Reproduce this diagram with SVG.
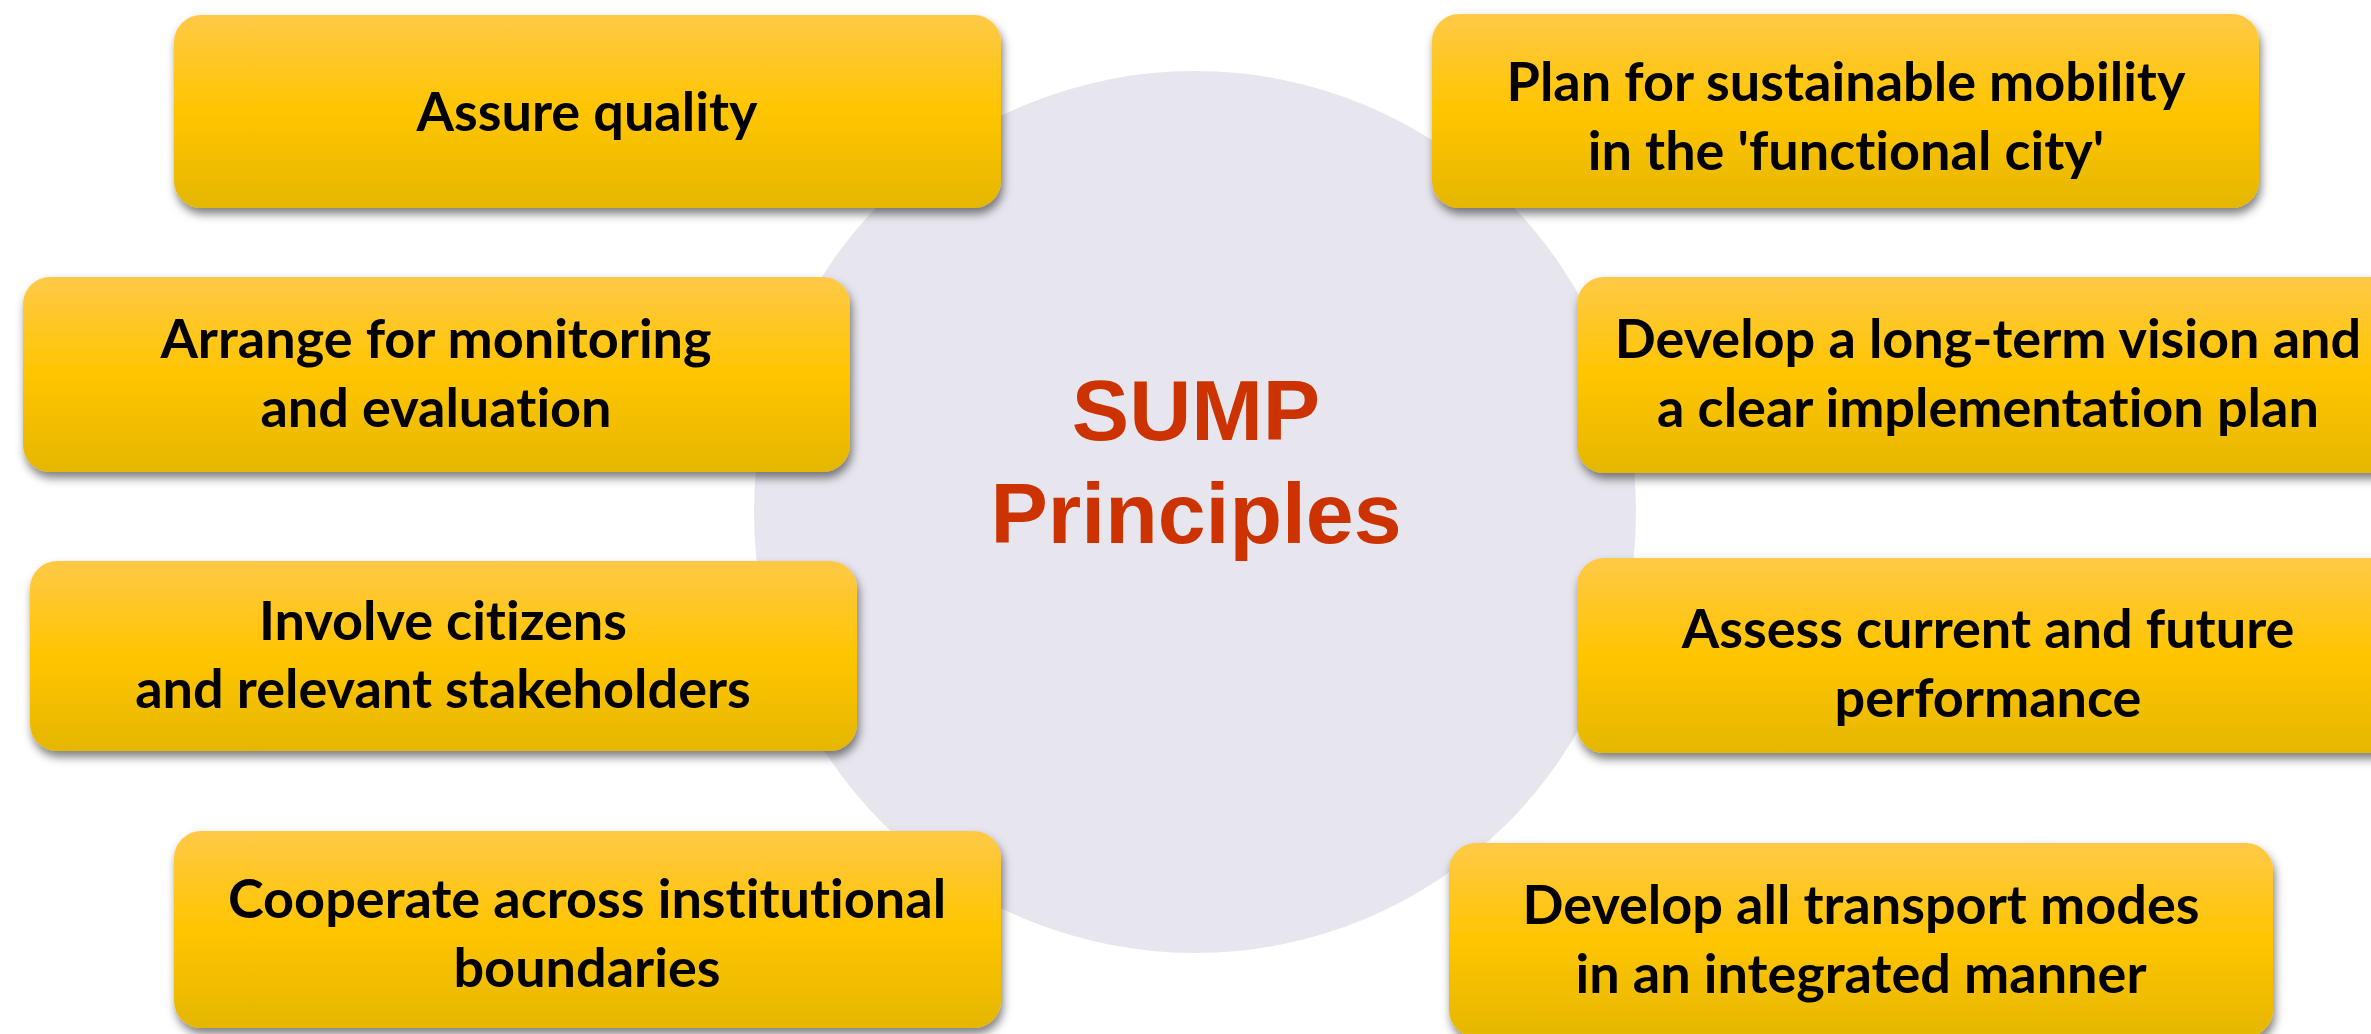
<svg xmlns="http://www.w3.org/2000/svg" width="2371" height="1034" viewBox="0 0 2371 1034">
  <defs>
    <linearGradient id="gold" x1="0" y1="0" x2="0" y2="1">
      <stop offset="0" stop-color="#FFC947"/>
      <stop offset="0.5" stop-color="#FFC500"/>
      <stop offset="1" stop-color="#E5B700"/>
    </linearGradient>
    <filter id="shadow" x="-5%" y="-10%" width="112%" height="130%">
      <feDropShadow dx="2" dy="6" stdDeviation="5" flood-color="#000" flood-opacity="0.5"/>
    </filter>
  </defs>
  <style>
    .box { fill: url(#gold); filter: url(#shadow); }
    .lbl { font-family: Lato, "Liberation Sans", sans-serif; font-weight: 700; font-size: 54px; fill: #000; text-anchor: middle; font-variant-ligatures: none; }
    .title { font-family: "Liberation Sans", Arial, sans-serif; font-weight: 700; font-size: 86px; fill: #CC3300; text-anchor: middle; }
  </style>
  <rect width="2371" height="1034" fill="#FFFFFF"/>

  <g id="center">
    <circle cx="1195" cy="512" r="441" fill="#E7E6EF"/>
    <text class="title" x="1196" y="440">SUMP</text>
    <text class="title" x="1196" y="543">Principles</text>
  </g>

  <g id="connectors"></g>

  <g id="n-assure">
    <rect class="box" x="174" y="15" width="827" height="193" rx="27"/>
    <text class="lbl" x="587" y="131">Assure quality</text>
  </g>
  <g id="n-arrange">
    <rect class="box" x="23" y="277" width="827" height="195" rx="27"/>
    <text class="lbl" x="436" y="358">Arrange for monitoring</text>
    <text class="lbl" x="436" y="427">and evaluation</text>
  </g>
  <g id="n-involve">
    <rect class="box" x="30" y="561" width="827" height="190" rx="27"/>
    <text class="lbl" x="443" y="640">Involve citizens</text>
    <text class="lbl" x="443" y="708">and relevant stakeholders</text>
  </g>
  <g id="n-cooperate">
    <rect class="box" x="174" y="831" width="827" height="197" rx="27"/>
    <text class="lbl" x="587" y="918">Cooperate across institutional</text>
    <text class="lbl" x="587" y="987">boundaries</text>
  </g>
  <g id="n-plan">
    <rect class="box" x="1432" y="14" width="827" height="194" rx="27"/>
    <text class="lbl" x="1846" y="101">Plan for sustainable mobility</text>
    <text class="lbl" x="1846" y="170">in the 'functional city'</text>
  </g>
  <g id="n-vision">
    <rect class="box" x="1577" y="277" width="827" height="196" rx="27"/>
    <text class="lbl" x="1988" y="358">Develop a long-term vision and</text>
    <text class="lbl" x="1988" y="427">a clear implementation plan</text>
  </g>
  <g id="n-assess">
    <rect class="box" x="1577" y="558" width="827" height="195" rx="27"/>
    <text class="lbl" x="1988" y="648">Assess current and future</text>
    <text class="lbl" x="1988" y="717">performance</text>
  </g>
  <g id="n-modes">
    <rect class="box" x="1449" y="843" width="824" height="194" rx="27"/>
    <text class="lbl" x="1861" y="924">Develop all transport modes</text>
    <text class="lbl" x="1861" y="993">in an integrated manner</text>
  </g>
</svg>
